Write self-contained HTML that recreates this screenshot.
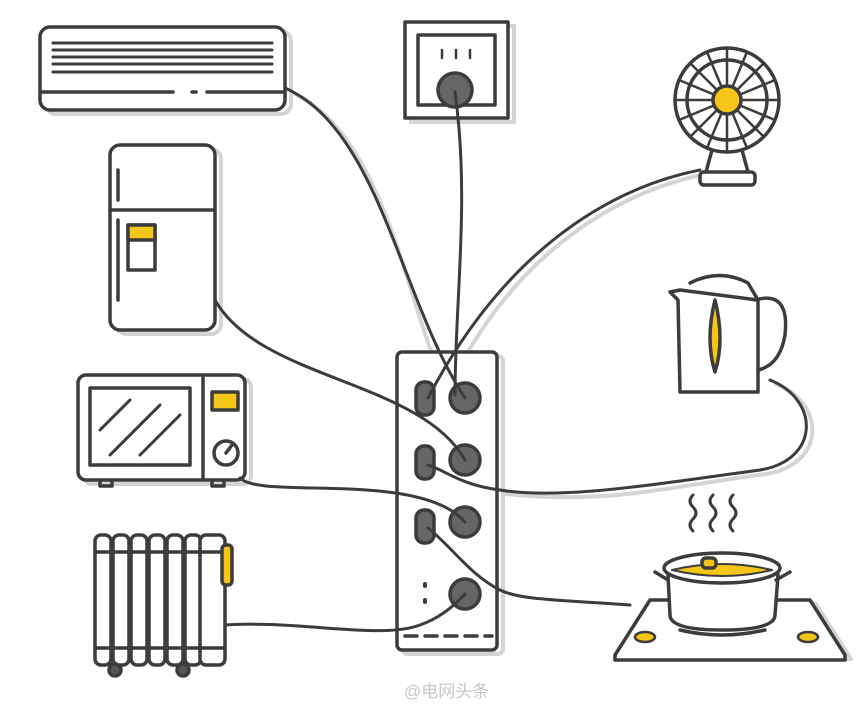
<!DOCTYPE html>
<html><head><meta charset="utf-8"><style>
html,body{margin:0;padding:0;background:#fff;width:866px;height:711px;overflow:hidden}
svg{display:block}
</style></head><body>
<svg width="866" height="711" viewBox="0 0 866 711" xmlns="http://www.w3.org/2000/svg" fill="none" stroke-linecap="round" stroke-linejoin="round">
<!-- shadows -->
<g stroke="#d4d4d4" stroke-width="4" transform="translate(6,4)">
<rect x="40" y="27" width="245" height="83" rx="10"/>
<rect x="405" y="22" width="103" height="96"/>
<rect x="110" y="145" width="105" height="185" rx="10"/>
<rect x="397" y="352" width="100" height="298" rx="5"/>
<rect x="78" y="375" width="167" height="105" rx="8"/>
<path d="M615,655 L650,600 L810,600 L845,655 Z"/>
<path d="M285,88 C380,130 400,300 440,385"/>
<path d="M700,170 C600,190 500,260 440,390"/>
<path d="M770,380 C820,400 820,460 760,470 C650,485 600,500 500,490"/>
</g>
<g stroke="#3c3c3c" stroke-width="3.5">
<!-- AC -->
<rect x="40" y="27" width="245" height="83" rx="10" fill="#fff"/>
<path d="M53,43H272M53,50H272M53,57H272M53,64H272M53,72H272" stroke-width="3"/>
<path d="M40,92H173M207,92H285M192,92H196"/>
<!-- outlet -->
<rect x="405" y="22" width="103" height="96" fill="#fff"/>
<rect x="418" y="35" width="77" height="70"/>
<path d="M442,50v8M456,50v8M470,50v8" stroke-width="2.5"/>
<circle cx="455" cy="90" r="17" fill="#666"/>
<!-- fan -->
<circle cx="727" cy="100" r="52" fill="#fff"/>
<circle cx="727" cy="100" r="40"/>
<g stroke-width="2.5">
<path d="M727,48V152M675,100H779M690,63L764,137M764,63L690,137M707,52L747,148M747,52L707,148M679,80L775,120M775,80L679,120"/>
</g>
<circle cx="727" cy="100" r="14" fill="#f5c518"/>
<path d="M712,150L706,172M742,150L748,172"/>
<rect x="700" y="172" width="55" height="13" rx="4" fill="#fff"/>
<!-- fridge -->
<rect x="110" y="145" width="105" height="185" rx="10" fill="#fff"/>
<path d="M110,210H215M118,170V200M118,220V300"/>
<rect x="128" y="225" width="27" height="45" fill="#fff"/>
<rect x="128" y="225" width="27" height="15" fill="#f5c518"/>
<!-- kettle -->
<path d="M680,290 L670,292 L678,300 L680,392 L758,392 L758,300 Z" fill="#fff"/>
<path d="M690,283 Q720,268 748,283 L758,300"/>
<path d="M755,300 Q790,290 785,335 Q780,365 758,370"/>
<path d="M715,300 Q705,340 715,372 Q725,340 715,300Z" fill="#f5c518"/>
<!-- microwave -->
<rect x="78" y="375" width="167" height="105" rx="8" fill="#fff"/>
<rect x="90" y="388" width="100" height="77"/>
<path d="M100,430L130,400M110,455L160,405M140,455L180,415" stroke-width="3"/>
<path d="M203,378V478"/>
<rect x="212" y="392" width="26" height="18" fill="#f5c518"/>
<circle cx="226" cy="453" r="12"/>
<path d="M226,453L232,445"/>
<path d="M100,480v6h12v-6M212,480v6h12v-6"/>
<!-- radiator -->
<g fill="#fff">
<rect x="95" y="535" width="16" height="130" rx="6"/>
<rect x="113" y="535" width="16" height="130" rx="6"/>
<rect x="131" y="535" width="16" height="130" rx="6"/>
<rect x="149" y="535" width="16" height="130" rx="6"/>
<rect x="167" y="535" width="16" height="130" rx="6"/>
<rect x="185" y="535" width="16" height="130" rx="6"/>
<rect x="200" y="535" width="25" height="130" rx="6"/>
</g>
<path d="M95,552H225M95,648H225"/>
<rect x="222" y="545" width="10" height="40" rx="4" fill="#f5c518"/>
<circle cx="115" cy="670" r="6" fill="#555"/><circle cx="183" cy="670" r="6" fill="#555"/>
<!-- stove -->
<path d="M615,655 L650,600 L810,600 L845,655 L845,660 L615,660 Z" fill="#fff"/>
<ellipse cx="645" cy="637" rx="10" ry="5" fill="#f5c518" stroke-width="2.5"/>
<ellipse cx="808" cy="637" rx="10" ry="5" fill="#f5c518" stroke-width="2.5"/>
<path d="M668,575 L670,615 Q670,630 722,630 Q775,630 775,615 L778,575" fill="#fff"/>
<path d="M680,630 Q722,640 765,630"/>
<ellipse cx="722" cy="568" rx="58" ry="15" fill="#fff"/>
<path d="M672,570 Q722,558 772,570 Q722,582 672,570Z" fill="#f5c518" stroke-width="2"/>
<rect x="702" y="558" width="14" height="10" rx="4" fill="#f5c518"/>
<path d="M655,572 L668,580M790,572 L776,580"/>
<path d="M693,495q-6,6 0,12q6,6 0,12q-6,6 0,12M713,495q-6,6 0,12q6,6 0,12q-6,6 0,12M733,495q-6,6 0,12q6,6 0,12q-6,6 0,12" stroke-width="3"/>
<!-- strip -->
<rect x="397" y="352" width="100" height="298" rx="5" fill="#fff"/>
<g fill="#666">
<rect x="416" y="382" width="18" height="33" rx="8"/>
<rect x="416" y="446" width="18" height="33" rx="8"/>
<rect x="416" y="510" width="18" height="33" rx="8"/>
<circle cx="465" cy="398" r="15"/>
<circle cx="465" cy="460" r="15"/>
<circle cx="465" cy="522" r="15"/>
<circle cx="465" cy="594" r="15"/>
</g>
<path d="M425,584v2M425,600v2" stroke-width="4"/>
<path d="M405,636H492" stroke-dasharray="12,8"/>
<!-- cables -->
<g stroke-width="3">
<path d="M285,88 C380,130 400,300 465,398"/>
<path d="M455,92 C470,200 455,300 455,395"/>
<path d="M700,170 C600,190 500,260 428,398"/>
<path d="M215,300 C260,380 420,380 465,460"/>
<path d="M770,380 C820,400 820,460 760,470 C650,485 560,500 500,490 C460,485 445,470 428,465"/>
<path d="M240,478 C260,500 420,470 465,522"/>
<path d="M630,605 C560,600 520,600 500,590 C470,575 450,545 428,528"/>
<path d="M225,625 C300,620 380,640 420,625 C440,618 455,605 465,594"/>
</g>
</g>
<text x="404" y="697" font-family="'Liberation Sans','Noto Sans CJK SC',sans-serif" font-size="17" fill="#c8c8c8">@电网头条</text>
</svg>
</body></html>
